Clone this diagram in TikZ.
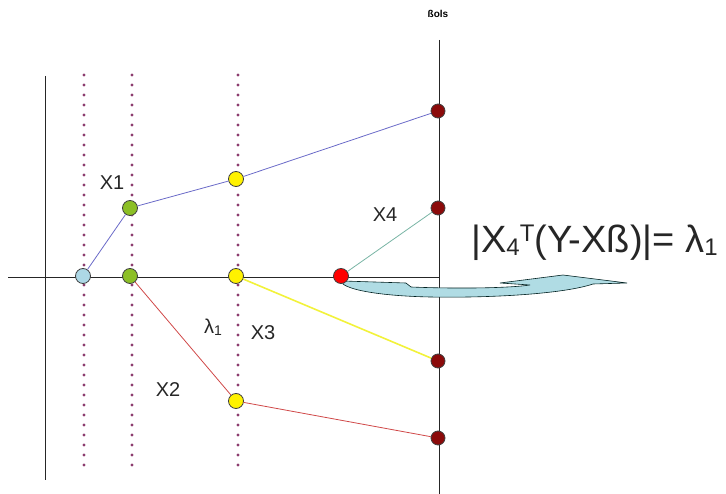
\documentclass[tikz,border=0pt]{standalone}
\usepackage{fontspec}
\setmainfont{Liberation Sans}
\usepackage{tikz}
\usetikzlibrary{positioning}
\definecolor{dotpurple}{HTML}{8C3C6E}
\definecolor{olsred}{HTML}{8B0A0A}
\definecolor{pathblue}{HTML}{6A6AC8}
\definecolor{pathred}{HTML}{D04848}
\definecolor{pathyellow}{HTML}{F2F23A}
\definecolor{pathteal}{HTML}{78B4A4}
\definecolor{swoosh}{HTML}{B0DCE4}
\definecolor{startblue}{HTML}{ADD8E6}
\definecolor{knotgreen}{HTML}{8CBF26}

\begin{document}
\begin{tikzpicture}[x=1pt, y=-1pt, font=\fontsize{20}{22}\selectfont,
  pt/.style={circle, draw=black!75, line width=0.8pt, inner sep=0pt, minimum size=15pt},
  knot/.style={dotpurple, line width=3.4pt, line cap=round, dash pattern=on 0pt off 10pt},
  axis/.style={black!85, line width=0.9pt},
  lbl/.style={inner sep=1pt, text=black!85}
]
\useasboundingbox (0,0) rectangle (726,494);

% ---- axes ---------------------------------------------------------------
\coordinate (h0) at (8,277);   \coordinate (h1) at (439,277);
\coordinate (v0) at (45,76);   \coordinate (v1) at (45,480);
\coordinate (b0) at (439,40);  \coordinate (b1) at (439,494);
\draw[axis] (h0) -- (h1);
\draw[axis] (v0) -- (v1);
\draw[axis] (b0) -- (b1);
\node[font=\bfseries\fontsize{10}{11}\selectfont] (bols) at (438,14) {ßols};

% ---- knots (dotted verticals) -------------------------------------------
\foreach \x/\n in {84/a, 132/b, 238/c} {
  \coordinate (k\n0) at (\x,75);
  \coordinate (k\n1) at (\x,472);
  \draw[knot] (k\n0) -- (k\n1);
}

% ---- swoosh arrow -------------------------------------------------------
\fill[swoosh, draw=black!75!teal, line width=0.6pt]
  (343,281) -- (406,283) -- (411,287)
  .. controls (460,289) and (510,288) .. (530,285) -- (500,283) -- (563,275)
  -- (627,283) -- (593,284)
  .. controls (560,295) and (480,298) .. (430,297)
  .. controls (385,296) and (352,291) .. (343,284) -- cycle;

% ---- points -------------------------------------------------------------
\node[pt, fill=startblue] (p0) at (83,276) {};
\node[pt, fill=knotgreen] (g1) at (130,208) {};
\node[pt, fill=knotgreen] (g0) at (130,276) {};
\node[pt, fill=yellow] (y1) at (236,179) {};
\node[pt, fill=yellow] (y0) at (236,276) {};
\node[pt, fill=yellow] (y2) at (236,401) {};
\node[pt, fill=red] (r0) at (341,276) {};
\foreach \y/\n in {111/1, 208/2, 361/3, 438/4}
  \node[pt, fill=olsred, minimum size=14pt] (o\n) at (438,\y) {};

% ---- paths --------------------------------------------------------------
\draw[pathblue, line width=0.8pt] (p0) -- (g1) -- (y1) -- (o1);
\draw[pathred, line width=0.8pt] (g0) -- (y2) -- (o4);
\draw[pathyellow, line width=1.6pt] (y0) -- (o3);
\draw[pathteal, line width=0.8pt] (r0) -- (o2);

% ---- labels -------------------------------------------------------------
\node[lbl] (x1) at (112,183) {X1};
\node[lbl] (x4) at (385,215) {X4};
\node[lbl] (x2) at (168,390) {X2};
\node[lbl] (x3) at (263,333) {X3};
\node[lbl] (lam) at (213,327) {λ\raisebox{-2pt}{\fontsize{14}{15}\selectfont 1}};
\node[lbl, anchor=west, font=\fontsize{38}{42}\selectfont] (eq) at (470,243)
  {|X\raisebox{-3pt}{\fontsize{24}{26}\selectfont 4}\raisebox{11pt}{\fontsize{24}{26}\selectfont T}(Y-Xß)|=
   λ\raisebox{-3pt}{\fontsize{24}{26}\selectfont 1}};
\end{tikzpicture}
\end{document}
